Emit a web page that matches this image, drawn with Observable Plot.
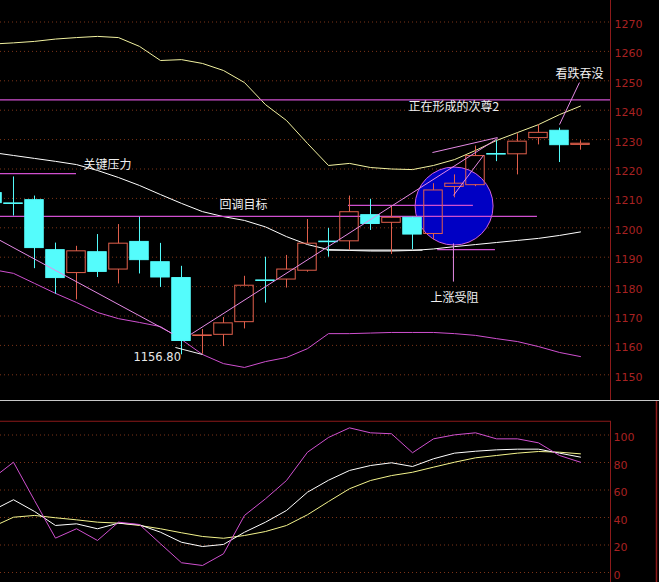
<!DOCTYPE html>
<html><head><meta charset="utf-8">
<script src="https://cdn.jsdelivr.net/npm/d3@7"></script>
<script src="https://cdn.jsdelivr.net/npm/@observablehq/plot@0.6"></script>
<style>
html,body{margin:0;padding:0;background:#000;width:659px;height:582px;overflow:hidden}
#sep{height:1px;background:#c8c8c8;width:659px}
svg{display:block}
</style></head><body>
<div id="main"></div><div id="sep"></div><div id="ind"></div>
<script>
// ---- data ----
const candleIdx = [-1,0,1,2,3,4,5,6,7,8,9,10,11,12,13,14,15,16,17,18,19,20,21,22,23,24,25,26,27];
const openP  = [1211.8,1208.3,1209.4,1192.4,1184.6,1191.7,1185.8,1195.2,1188.3,1182.9,1163.2,1163.6,1167.9,1182.1,1182.4,1185.4,1195.3,1195.4,1204.3,1201.7,1203.4,1197.9,1213.9,1214.5,1225.1,1225.0,1230.5,1233.0,1228.2];
const highP  = [1214.0,1217.3,1210.8,1194.8,1193.7,1197.7,1201.1,1203.6,1194.7,1186.9,1165.4,1169.5,1183.5,1190.0,1190.6,1202.8,1199.8,1210.8,1209.7,1207.4,1203.6,1215.0,1218.0,1227.8,1229.6,1232.0,1235.0,1233.9,1229.6];
const lowP   = [1205.0,1204.0,1186.1,1177.4,1175.5,1183.1,1180.9,1184.3,1179.7,1156.8,1157.0,1159.6,1165.6,1174.4,1179.5,1184.9,1190.0,1192.3,1199.1,1190.9,1192.6,1196.0,1210.2,1214.0,1222.5,1218.0,1228.2,1222.2,1226.4];
const closeP = [1208.4,1208.1,1193.1,1182.9,1192.0,1185.0,1194.6,1189.0,1183.1,1161.5,1163.4,1167.5,1180.3,1181.9,1185.8,1194.6,1195.1,1205.3,1201.3,1203.4,1197.7,1212.7,1215.0,1224.4,1224.9,1229.3,1232.3,1228.1,1228.6];
const bandUpper = [1262.5,1262.9,1263.4,1264.2,1264.7,1265.1,1264.7,1261.7,1256.9,1257.2,1255.9,1253.5,1249.4,1241.9,1236.5,1228.7,1221.2,1221.9,1220.5,1220.0,1219.8,1221.2,1223.2,1226.3,1229.7,1232.4,1235.1,1238.5,1241.4];
const bandMid   = [1225.6,1224.6,1223.6,1222.6,1221.5,1219.5,1217.1,1214.4,1211.3,1208.3,1205.5,1203.8,1202.5,1200.3,1197.0,1194.3,1192.6,1192.3,1192.1,1192.1,1192.3,1192.8,1193.6,1194.3,1195.0,1195.7,1196.4,1197.4,1198.6];
const bandLower = [1185.8,1184.5,1181.1,1177.7,1174.6,1171.2,1169.1,1167.8,1166.4,1162.0,1156.9,1153.8,1152.5,1154.5,1155.9,1158.9,1164.0,1164.0,1164.2,1164.4,1164.4,1164.4,1164.0,1163.4,1162.3,1161.3,1159.6,1157.6,1156.2];
const kVal = [45.1,52.9,44.4,34.2,35.4,31.8,35.9,34.7,29.3,22.0,18.9,20.4,29.3,36.6,45.1,58.4,67.1,74.2,77.8,79.8,77.1,82.7,86.8,88.2,89.2,89.7,89.7,86.8,83.9];
const dVal = [33.2,40.2,41.5,39.8,38.3,36.6,35.9,34.2,31.8,28.9,26.2,24.9,26.9,29.8,34.2,42.0,51.6,60.9,66.9,70.5,72.9,76.6,80.2,83.4,85.1,86.8,88.0,87.5,86.3];
const jVal = [68.4,80.2,52.4,25.0,31.8,23.3,36.6,34.9,20.9,7.1,5.1,13.6,41.5,53.6,66.9,87.5,98.2,105.2,101.6,100.9,87.1,97.2,100.1,101.6,97.2,97.2,94.3,85.1,80.2];
const priceTicks = [1150,1160,1170,1180,1190,1200,1210,1220,1230,1240,1250,1260,1270];
const indTicks = [0,20,40,60,80,100];
// annotation levels (magenta horizontal lines): price, from index, to index
const levelPrice = [1243.5, 1218.4, 1203.9, 1207.6, 1192.6];
const levelFrom  = [-1, -1, -1, 15.95, 20.2];
const levelTo    = [28.43, 3.0, 24.95, 21.9, 22.95];
// white support stub
const whitePrice = [1192.4]; const whiteFrom = [14.95]; const whiteTo = [19.5];
// drawn trend/pointer segments: [i1, p1, i2, p2]
const trendSegs = [
  [-1, 1197.1, 7.57, 1164.0],
  [8.43, 1163.7, 23.05, 1230.4],
  [19.95, 1225.6, 23.05, 1230.7],
  [20.95, 1211.0, 22.38, 1224.6],
  [26.95, 1249.4, 26.0, 1235.1],
  [20.95, 1194.7, 20.95, 1181.7]
];
const lowSeg = [[7.71, 1159.3, 9.0, 1156.9]];
const circleAt = [[20.98, 1207.4]];
const noteText = ["关键压力","回调目标","正在形成的次尊2","看跌吞没","上涨受阻"];
const noteI    = [3.33, 9.81, 18.81, 25.81, 19.86];
const noteP    = [1221.2, 1207.6, 1240.9, 1252.1, 1176.0];
const lowLabel = [{i: 5.71, p: 1156.1, t: "1156.80"}];

// ---- build ----
const X0 = -0.619, X1 = 28.429;
const candles = candleIdx.map((i,k)=>({i, o: openP[k], h: highP[k], l: lowP[k], c: closeP[k]}));
const up = candles.filter(d=>d.c>d.o), dn = candles.filter(d=>d.c<=d.o);
const series = (arr)=>candleIdx.map((i,k)=>({i, v: arr[k]}));
const RED = "#e2604c", CYAN = "#54fcfc", MAG = "#d050d0", PINK = "#e58ae5", AX = "#8c1a1a", LAB = "#a82222";
const grid = {stroke: "#7c3418", strokeDasharray: "1 3", strokeWidth: 1};

const main = Plot.plot({
  width: 659, height: 400,
  marginLeft: 0, marginRight: 49, marginTop: 21.5, marginBottom: 25.7,
  x: {domain: [X0, X1], axis: null},
  y: {domain: [1150, 1270], axis: null},
  style: {background: "#000", overflow: "hidden"},
  marks: [
    Plot.ruleY(priceTicks, {x1: X0, x2: X1, ...grid}),
    Plot.dot(circleAt, {x: d=>d[0], y: d=>d[1], r: 39, fill: "#0000c4", stroke: "#d060e0", strokeWidth: 1}),
    Plot.line(series(bandUpper), {x: "i", y: "v", stroke: "#f2f2a0", strokeWidth: 1}),
    Plot.line(series(bandMid), {x: "i", y: "v", stroke: "#ffffff", strokeWidth: 1}),
    Plot.line(series(bandLower), {x: "i", y: "v", stroke: MAG, strokeWidth: 1}),
    Plot.ruleY(levelPrice, {y: d=>d, x1: (d,k)=>levelFrom[k], x2: (d,k)=>levelTo[k], stroke: MAG, strokeWidth: 1.2}),
    Plot.ruleY(whitePrice, {y: d=>d, x1: (d,k)=>whiteFrom[k], x2: (d,k)=>whiteTo[k], stroke: "#f0f0f0", strokeWidth: 1.2}),
    // wicks
    Plot.ruleX(dn, {x: "i", y1: "h", y2: "l", stroke: CYAN, strokeWidth: 1}),
    Plot.ruleX(up, {x: "i", y1: "h", y2: "c", stroke: RED, strokeWidth: 1}),
    Plot.ruleX(up, {x: "i", y1: "o", y2: "l", stroke: RED, strokeWidth: 1}),
    // bodies
    Plot.rect(dn, {x1: d=>d.i-0.44, x2: d=>d.i+0.44, y1: "o", y2: "c", fill: CYAN, stroke: CYAN, strokeWidth: 1}),
    Plot.rect(up, {x1: d=>d.i-0.44, x2: d=>d.i+0.44, y1: "o", y2: "c", fill: "none", stroke: RED, strokeWidth: 1}),
    // drawn lines
    Plot.link(trendSegs, {x1: d=>d[0], y1: d=>d[1], x2: d=>d[2], y2: d=>d[3], stroke: PINK, strokeWidth: 1}),
    Plot.link(lowSeg, {x1: d=>d[0], y1: d=>d[1], x2: d=>d[2], y2: d=>d[3], stroke: "#f4f4f4", strokeWidth: 1}),
    Plot.text(noteText, {x: (d,k)=>noteI[k], y: (d,k)=>noteP[k], text: d=>d, textAnchor: "start", fill: "#f0f0f0", fontSize: 12, fontFamily: "Noto Sans CJK SC"}),
    Plot.text(lowLabel, {x: "i", y: "p", text: "t", textAnchor: "start", fill: "#e8e8e8", fontSize: 11.5, fontFamily: "DejaVu Sans"}),
    // right axis
    Plot.ruleX([X1], {y1: 1290, y2: 1130, stroke: AX, strokeWidth: 1}),
    Plot.text(priceTicks, {x: X1, y: d=>d, text: d=>String(d), textAnchor: "start", dx: 4, dy: 2.5, fill: LAB, fontSize: 11, fontFamily: "DejaVu Sans"})
  ]
});
document.getElementById("main").append(main);

const IND_TOP = 110;
const ind = Plot.plot({
  width: 659, height: 181,
  marginLeft: 0, marginRight: 49, marginTop: 33.5, marginBottom: 10,
  x: {domain: [X0, X1], axis: null},
  y: {domain: [0, 100], axis: null},
  style: {background: "#000", overflow: "hidden"},
  marks: [
    Plot.ruleY(indTicks, {x1: X0, x2: X1, ...grid}),
    Plot.ruleY([IND_TOP], {x1: X0, x2: X1, stroke: AX, strokeWidth: 1}),
    Plot.ruleX([X1], {y1: IND_TOP, y2: -20, stroke: AX, strokeWidth: 1}),
    Plot.ruleX([X1 + 46/21], {y1: 130, y2: -20, stroke: AX, strokeWidth: 1.5}),
    Plot.line(series(dVal), {x: "i", y: "v", stroke: "#f4f48c", strokeWidth: 1}),
    Plot.line(series(kVal), {x: "i", y: "v", stroke: "#ffffff", strokeWidth: 1}),
    Plot.line(series(jVal), {x: "i", y: "v", stroke: MAG, strokeWidth: 1}),
    Plot.text(indTicks, {x: X1, y: d=>d, text: d=>String(d), textAnchor: "start", dx: 3, dy: 2.5, fill: LAB, fontSize: 11, fontFamily: "DejaVu Sans"})
  ]
});
document.getElementById("ind").append(ind);
</script>
</body></html>
